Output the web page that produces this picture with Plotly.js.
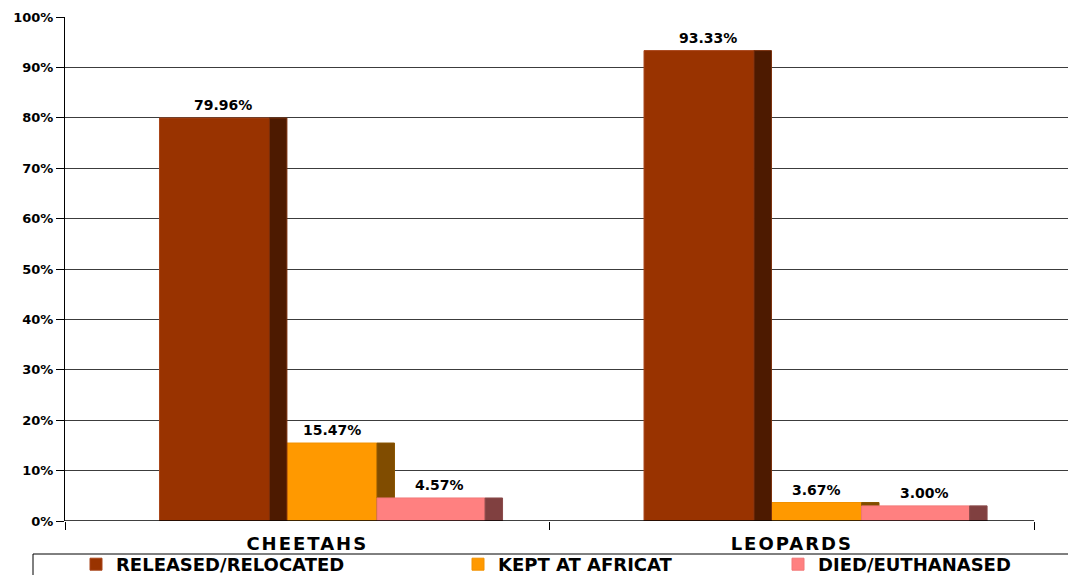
<!DOCTYPE html>
<html>
<head>
<meta charset="utf-8">
<script src="https://cdn.plot.ly/plotly-3.0.1.min.js"></script>
<style>
  html, body { margin: 0; padding: 0; background: #fff; }
  #chart { width: 1068px; height: 575px; }
  .xtick text { letter-spacing: 2px; }
</style>
</head>
<body>
<div id="chart"></div>
<script>
// ---------- DATA ----------
const categories = ['CHEETAHS', 'LEOPARDS'];
const seriesNames = ['RELEASED/RELOCATED', 'KEPT AT AFRICAT', 'DIED/EUTHANASED'];
const released = [79.96, 93.33];
const kept = [15.47, 3.67];
const died = [4.57, 3.00];
const yTickVals = [0, 10, 20, 30, 40, 50, 60, 70, 80, 90, 100];
const yTickText = ['0%', '10%', '20%', '30%', '40%', '50%', '60%', '70%', '80%', '90%', '100%'];

// ---------- STYLE ----------
const seriesValues = [released, kept, died];
const frontColors = ['#993300', '#ff9900', '#ff8080'];
const frontLines  = ['#a8451a', '#f29100', '#f27878'];
const sideColors  = ['#4d1a00', '#804c00', '#804040'];
const sideLines   = ['#7a2e0a', '#8a5500', '#8a4a4a'];
const frontOffset = [-0.305, -0.078, 0.144];
const frontWidth  = [0.227, 0.222, 0.223];
const sideOffset  = [-0.078, 0.144, 0.367];
const sideWidth   = 0.036;
const legendIds   = ['legend', 'legend2', 'legend3'];
const drawOrder   = [1, 0, 2];   // orange first, then brown over it, pink on top

const boldFont = (size) => ({ family: 'DejaVu Sans, sans-serif', size: size, color: '#000', weight: 700 });

const traces = [];
drawOrder.forEach(i => {
  traces.push({
    type: 'bar', x: categories, y: seriesValues[i], name: seriesNames[i],
    offset: frontOffset[i], width: frontWidth[i],
    marker: { color: frontColors[i], line: { color: frontLines[i], width: 1 } },
    legend: legendIds[i], showlegend: true, hoverinfo: 'name+y'
  });
  traces.push({
    type: 'bar', x: categories, y: seriesValues[i], name: seriesNames[i],
    offset: sideOffset[i], width: sideWidth,
    marker: { color: sideColors[i], line: { color: sideLines[i], width: 1 } },
    showlegend: false, hoverinfo: 'skip'
  });
});

const annotations = [];
seriesValues.forEach((vals, i) => {
  const center = (frontOffset[i] + sideOffset[i] + sideWidth) / 2;
  vals.forEach((v, j) => {
    annotations.push({
      x: j + center, y: v, xref: 'x', yref: 'y',
      text: v.toFixed(2) + '%', showarrow: false,
      yanchor: 'bottom', yshift: 3, font: boldFont(14)
    });
  });
});

// pixel helpers for paper coordinates (plot area: x 65..1068, y 17..521)
const px = (p) => (p - 65) / 1003;
const py = (p) => (521 - p) / 504;

const legendBase = {
  orientation: 'h', xanchor: 'left', yanchor: 'top',
  bgcolor: 'rgba(0,0,0,0)', borderwidth: 0, font: boldFont(18)
};

const layout = {
  width: 1068, height: 575,
  margin: { l: 65, r: 0, t: 17, b: 54, autoexpand: false },
  paper_bgcolor: '#fff', plot_bgcolor: '#fff',
  barmode: 'overlay',
  hovermode: 'closest',
  xaxis: {
    type: 'category', range: [-0.5, 1.57],
    tickson: 'boundaries', ticks: 'outside', ticklen: 8, tickcolor: '#000', tickwidth: 1,
    showgrid: false, showline: false, zeroline: false, automargin: false,
    tickfont: boldFont(18), ticklabelstandoff: 10, fixedrange: true
  },
  yaxis: {
    range: [0, 100], tickmode: 'array', tickvals: yTickVals, ticktext: yTickText,
    ticks: 'outside', ticklen: 8, tickcolor: '#000', tickwidth: 1,
    showline: true, linecolor: '#000', linewidth: 1, automargin: false,
    showgrid: true, gridcolor: '#3c3c3c', gridwidth: 1,
    zeroline: false, tickfont: boldFont(13), fixedrange: true
  },
  legend:  Object.assign({}, legendBase, { x: px(76),  y: py(546) }),
  legend2: Object.assign({}, legendBase, { x: px(458), y: py(546) }),
  legend3: Object.assign({}, legendBase, { x: px(778), y: py(546) }),
  shapes: [
    { type: 'line', xref: 'x', yref: 'y', x0: -0.5, x1: 1.5, y0: 0, y1: 0,
      line: { color: '#000', width: 1.5 } },
    { type: 'rect', xref: 'paper', yref: 'paper',
      x0: px(33), x1: px(1080), y0: py(554), y1: py(610),
      line: { color: '#000', width: 1 }, fillcolor: 'rgba(0,0,0,0)' }
  ],
  annotations: annotations,
  showlegend: true
};

Plotly.newPlot('chart', traces, layout, { displayModeBar: false });
</script>
</body>
</html>
